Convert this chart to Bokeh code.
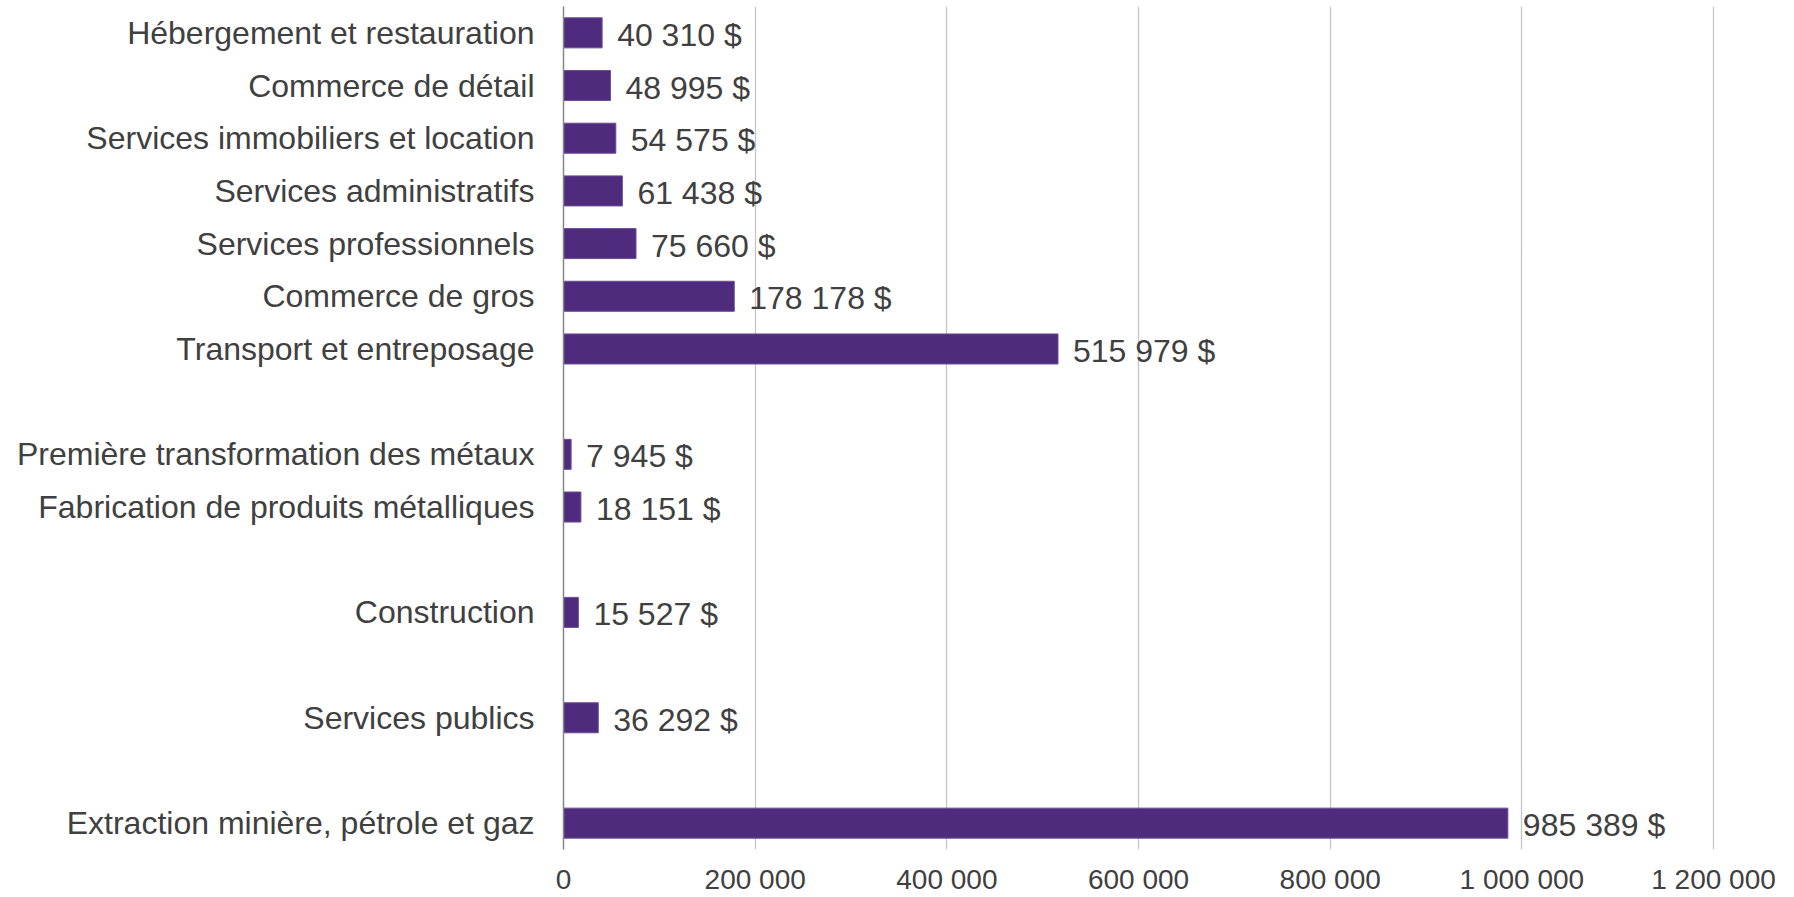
from bokeh.plotting import figure
from bokeh.models import ColumnDataSource, FixedTicker, Range1d
from bokeh.core.properties import value
from bokeh.embed import file_html
from bokeh.resources import INLINE

# ---- data ----
categories = [
    "Hébergement et restauration",
    "Commerce de détail",
    "Services immobiliers et location",
    "Services administratifs",
    "Services professionnels",
    "Commerce de gros",
    "Transport et entreposage",
    "Première transformation des métaux",
    "Fabrication de produits métalliques",
    "Construction",
    "Services publics",
    "Extraction minière, pétrole et gaz",
]
values = [40310, 48995, 54575, 61438, 75660, 178178, 515979, 7945, 18151, 15527, 36292, 985389]
groups = [1, 1, 1, 1, 1, 1, 1, 2, 2, 3, 4, 5]
x_ticks = [0, 200000, 400000, 600000, 800000, 1000000, 1200000]
x_tick_labels = ["0", "200 000", "400 000", "600 000", "800 000", "1 000 000", "1 200 000"]

# slot positions: consecutive within a group, one empty slot between groups
positions = []
slot = 0
prev = groups[0]
for g in groups:
    if g != prev:
        slot += 1
        prev = g
    positions.append(slot)
    slot += 1
n_slots = slot

def fmt(v):
    return "{:,}".format(v).replace(",", " ") + " $"

src = ColumnDataSource(dict(
    y=positions,
    v=values,
    lab=[fmt(v) for v in values],
))

FONT = "Liberation Sans"
TXT = "#404040"

p = figure(
    width=1790, height=897,
    x_range=Range1d(0, 1201000),
    y_range=Range1d(n_slots - 0.5, -0.5),
    output_backend="svg", toolbar_location=None,
    min_border_left=563, min_border_right=76,
    min_border_top=6, min_border_bottom=47,
)
p.outline_line_color = None
p.background_fill_color = "white"

p.hbar(y="y", right="v", left=0, height=0.57, source=src,
       fill_color="#4F2B7E", line_color="#6B4E96", line_width=1)

p.text(x="v", y="y", text="lab", source=src, x_offset=15, y_offset=2,
       text_baseline="middle", text_align="left",
       text_font=value(FONT), text_font_size="32px", text_color=TXT)

# x axis
p.xaxis.ticker = FixedTicker(ticks=x_ticks)
p.xaxis.major_label_overrides = {t: l for t, l in zip(x_ticks, x_tick_labels)}
p.xaxis.axis_line_color = None
p.xaxis.major_tick_line_color = None
p.xaxis.major_tick_out = 0
p.xaxis.major_tick_in = 0
p.xaxis.minor_tick_line_color = None
p.xaxis.minor_tick_out = 0
p.xaxis.major_label_text_font = FONT
p.xaxis.major_label_text_font_size = "28px"
p.xaxis.major_label_text_color = TXT
p.xaxis.major_label_standoff = 14

# y axis
p.yaxis.ticker = FixedTicker(ticks=positions)
p.yaxis.major_label_overrides = {pos: c for pos, c in zip(positions, categories)}
p.yaxis.axis_line_color = "#868686"
p.yaxis.axis_line_width = 1.5
p.yaxis.major_tick_line_color = None
p.yaxis.major_tick_out = 0
p.yaxis.major_tick_in = 0
p.yaxis.minor_tick_line_color = None
p.yaxis.minor_tick_out = 0
p.yaxis.major_label_text_font = FONT
p.yaxis.major_label_text_font_size = "32px"
p.yaxis.major_label_text_color = TXT
p.yaxis.major_label_standoff = 29

p.xgrid.grid_line_color = "#C6C6C6"
p.xgrid.grid_line_width = 1.3
p.ygrid.grid_line_color = None

open("out.html", "w").write(file_html(p, INLINE))
